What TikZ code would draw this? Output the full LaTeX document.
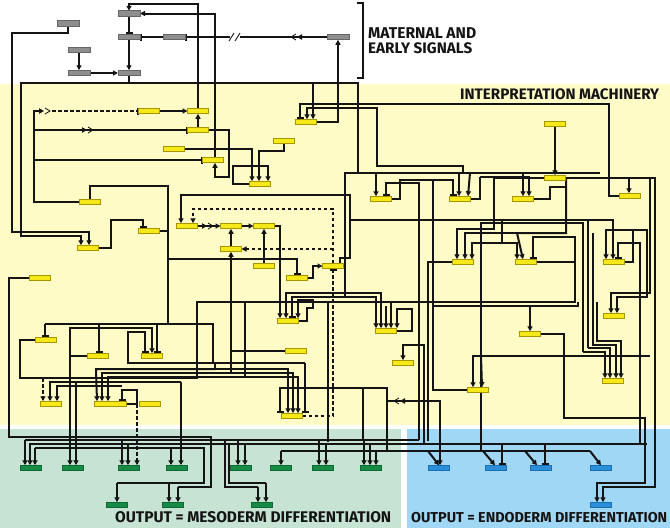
\documentclass[tikz,border=0pt]{standalone}
\usepackage{fontspec}
\newfontfamily\labfont{Fira Sans}
\usetikzlibrary{arrows.meta}
\definecolor{yfill}{HTML}{F6E91A}
\definecolor{ydraw}{HTML}{A89500}
\definecolor{bgy}{HTML}{FFFBC6}
\definecolor{bgg}{HTML}{C6E3D3}
\definecolor{bgb}{HTML}{A0D7F4}
\definecolor{gfill}{HTML}{178A45}
\definecolor{gdraw}{HTML}{0E6A33}
\definecolor{bfill}{HTML}{2A8FD8}
\definecolor{bdraw}{HTML}{1A6FB0}
\definecolor{grfill}{HTML}{8E8E8E}
\definecolor{grdraw}{HTML}{666666}
\definecolor{wire}{HTML}{141414}
\pgfdeclarelayer{back}
\pgfdeclarelayer{mid}
\pgfsetlayers{back,mid,main}
\newcommand\mychevr[2]{%
  \fill[wire] (#1,#2-2.8) -- (#1+5,#2) -- (#1,#2+2.8) -- cycle;
  \draw[wire,line width=0.8pt] (#1+6,#2-3) -- (#1+11,#2) -- (#1+6,#2+3);}
\newcommand\mychevl[2]{%
  \fill[wire] (#1,#2) -- (#1+5,#2-2.8) -- (#1+5,#2+2.8) -- cycle;
  \draw[wire,line width=0.8pt] (#1-1,#2-3) -- (#1-6,#2) -- (#1-1,#2+3);}
\tikzset{
  w/.style={draw=wire,line width=2pt},
  ar/.style={w,-{Triangle[length=5pt,width=5pt]}},
  tb/.style={w,-{Bar[width=7pt]}},
  dsh/.style={w,dash pattern=on 3.5pt off 2.5pt},
  box/.style={minimum width=21pt,minimum height=5.5pt,inner sep=0pt,outer sep=0pt,line width=0.6pt},
  ybox/.style={box,fill=yfill,draw=ydraw},
  gbox/.style={box,fill=grfill,draw=grdraw,minimum width=22pt},
  mbox/.style={box,fill=gfill,draw=gdraw},
  nbox/.style={box,fill=bfill,draw=bdraw},
  lab/.style={font=\labfont\bfseries\fontsize{11.5}{13}\selectfont,text=wire,inner sep=0pt},
}
\begin{document}
\begin{tikzpicture}[x=1pt,y=-1pt]
\useasboundingbox (0,0) rectangle (670,528);
\begin{pgfonlayer}{back}
\fill[white] (0,0) rectangle (670,528);
\fill[bgy] (0,84) rectangle (670,425);
\fill[bgg] (0,429) rectangle (401,528);
\fill[bgb] (407,429) rectangle (670,528);
\end{pgfonlayer}
% ---------------- nodes
\node[gbox] (g1) at (68,23.5) {};
\node[gbox] (g2) at (129,13.5) {};
\node[gbox] (g3) at (129,37) {};
\node[gbox] (g4) at (174,37) {};
\node[gbox] (g5) at (79,50) {};
\node[gbox] (g6) at (79,73) {};
\node[gbox] (g7) at (129,73) {};
\node[gbox] (g8) at (338,37) {};
\node[ybox] (a1) at (149,111) {};
\node[ybox] (a2) at (198,111) {};
\node[ybox] (a3) at (198,130) {};
\node[ybox] (a4) at (174,149) {};
\node[ybox] (a5) at (213,160) {};
\node[ybox] (a6) at (306,122) {};
\node[ybox] (a7) at (284,141) {};
\node[ybox] (a8) at (260,184) {};
\node[ybox] (a9) at (555,124) {};
\node[ybox] (a10) at (555,178) {};
\node[ybox] (a11) at (381,199) {};
\node[ybox] (a12) at (460,199) {};
\node[ybox] (a13) at (523,199) {};
\node[ybox] (a14) at (630,196) {};
\node[ybox] (b1) at (90,202) {};
\node[ybox] (b2) at (149,231) {};
\node[ybox] (b3) at (88,248) {};
\node[ybox] (b4) at (187,226) {};
\node[ybox] (b5) at (231,226) {};
\node[ybox] (b6) at (264,226) {};
\node[ybox] (b7) at (231,249) {};
\node[ybox] (b8) at (264,266) {};
\node[ybox] (b9) at (297,278) {};
\node[ybox] (b10) at (333,266) {};
\node[ybox] (b11) at (40,278) {};
\node[ybox] (c1) at (463,262) {};
\node[ybox] (c2) at (526,262) {};
\node[ybox] (c3) at (614,262) {};
\node[ybox] (c4) at (614,316) {};
\node[ybox] (c5) at (530,334) {};
\node[ybox] (c6) at (288,321) {};
\node[ybox] (c7) at (386,331) {};
\node[ybox] (d1) at (46,340) {};
\node[ybox] (d2) at (98,356) {};
\node[ybox] (d3) at (152,356) {};
\node[ybox] (d4) at (296,351) {};
\node[ybox] (d5) at (403,363) {};
\node[ybox] (d6) at (478,390) {};
\node[ybox] (d7) at (613,381) {};
\node[ybox] (e1) at (51,404) {};
\node[ybox,minimum width=32pt] (e2) at (110,404) {};
\node[ybox] (e3) at (150,404) {};
\node[ybox] (e4) at (292,416) {};
\node[mbox] (m1) at (31,468) {};
\node[mbox] (m2) at (73,468) {};
\node[mbox] (m3) at (129,468) {};
\node[mbox] (m4) at (177,468) {};
\node[mbox] (m5) at (241,468) {};
\node[mbox] (m6) at (281,468) {};
\node[mbox] (m7) at (323,468) {};
\node[mbox] (m8) at (371,468) {};
\node[mbox] (m9) at (117,505) {};
\node[mbox] (m10) at (173,505) {};
\node[mbox] (m11) at (262,505) {};
\node[nbox] (n1) at (439,468) {};
\node[nbox] (n2) at (496,468) {};
\node[nbox] (n3) at (541,468) {};
\node[nbox] (n4) at (601,468) {};
\node[nbox] (n5) at (601,505) {};
% ---------------- labels
\node[lab,anchor=base west] (tm1) at (368,38.5) {\resizebox{108pt}{!}{MATERNAL AND}};
\node[lab,anchor=base west] (tm2) at (368,53) {\resizebox{104pt}{!}{EARLY SIGNALS}};
\node[lab,anchor=base west] (tint) at (460,99.3) {\resizebox{199pt}{!}{INTERPRETATION MACHINERY}};
\node[lab,anchor=base west] (tmes) at (115,522.5) {\resizebox{276pt}{!}{OUTPUT = MESODERM DIFFERENTIATION}};
\node[lab,anchor=base west] (tend) at (411,522.5) {\resizebox{256pt}{!}{OUTPUT = ENDODERM DIFFERENTIATION}};
\begin{pgfonlayer}{mid}
\draw[w] (357,3) -- (363,3) -- (363,78) -- (357,78);
% ---------------- maternal
\draw[ar] (g1.south) -- (68,33) -- (12,33) -- (12,232) -| ([xshift=1pt]b3.north);
\draw[ar] (g7.south) -- (129,83) -- (21,83) -- (21,236) -| ([xshift=-7pt]b3.north);
\draw[w] (129,83) -- (358,83) -- (358,173) -- (600,173);
\draw[tb] (g2.south) -- (g3.north);
\draw[ar] (g3.south) -- (g7.north);
\draw[ar] (g5.south) -- (g6.north);
\draw[ar] (g6.east) -- (g7.west);
\draw[tb] (g4.west) -- (g3.east);
\draw[tb] (g8.west) -- (g4.east);
\fill[white] (230,33) rectangle (240,41);
\draw[wire,line width=0.9pt] (229,41) -- (234,33) (235,41) -- (240,33);
\mychevl{297}{37}
\draw[ar] (a6.east) -| (g8.south);
\draw[ar] (a2.north) -- (198,4) -| (g2.north);
\draw[ar] ([xshift=2pt]a5.north) |- (g2.east);
% ---------------- upper interpretation
\draw[ar] (a1.east) -- (a2.west);
\draw[ar] (a3.north) -- (a2.south);
\draw[w] (b1.west) -- (34,202) -- (34,111) -- (40,111);
\mychevr{39}{111}
\draw[dsh,-{Bar[width=7pt]}] (52,111) -- (a1.west);
\draw[tb] (34,130) -- (a3.west);
\mychevr{82}{130}
\draw[tb] (34,160) -- (a5.west);
\draw[ar] (a3.east) -- (229,130) -- (229,177) -- (215,177) -- ([xshift=2pt]a5.south);
\draw[ar] (a4.east) -| ([xshift=-8pt]a8.north);
\draw[ar] (a7.south) |- (259,151) -- ([xshift=-1pt]a8.north);
\draw[ar] (a8.west) -- (233,184) -- (233,166) -| ([xshift=8pt]a8.north);
\draw[ar] (313,83) -- ([xshift=7pt]a6.north);
\draw[ar] (463,173) -- (463,166) -- (377,166) -- (377,108) -- (307,108) -- ([xshift=1pt]a6.north);
\draw[tb] (a14.west) -- (609,196) -- (609,104) -- (300,104) -- ([xshift=-6pt]a6.north);
\draw[ar] (376,173) -- ([xshift=-5pt]a11.north);
\draw[ar] (459,173) -- ([xshift=-1pt]a12.north);
\draw[ar] (470,173) -- ([xshift=8pt]a12.north);
\draw[ar] (523,173) -- (a13.north);
\draw[ar] (a9.south) -- (a10.north);
\draw[ar] (a10.east) -- (655,178) -- (655,487) -| ([xshift=2pt]n5.north);
\draw[ar] (629,178) -- ([xshift=-1pt]a14.north);
\draw[ar] (a10.west) -- (494,178) -- (494,229) -| ([xshift=-6pt]c1.north);
\draw[w] (a13.east) -- (550,199) -- (550,187) -- (566,187);
\draw[ar] (a10.east) -- (566,178) -- (566,233) -- (517,233) -- ([xshift=-3pt]c2.north);
\draw[ar] (480,177) -- (529,177) -- ([xshift=6pt]a13.north);
\draw[w] (a12.east) -- (480,199) -- (480,177);
\draw[tb] (d6.west) -| (433,180) -| ([xshift=-7pt]a12.north);
\draw[w] (a11.east) -- (400,199) -- (400,180) -- (433,180);
% ---------------- middle block
\draw[w] (b1.north) -- (90,186) -- (168,186) -- (168,324);
\draw[w] (b2.east) -- (168,231);
\draw[tb] (168,259) -| (b9.north);
\draw[tb] (b3.east) -- (111,248) -- (111,220) -| ([xshift=-6pt]b2.north);
\draw[ar] (b4.east) -- (b5.west);
\mychevr{202}{226}
\draw[ar] (b5.east) -- (b6.west);
\draw[ar] (b7.north) -- (b5.south);
\draw[ar] (b8.north) -- (b6.south);
\draw[ar] (b9.east) -- (313,278) -- (313,266) -- (b10.west);
\draw[ar] ([xshift=7pt]b10.north) -- (340,258) -- (350,258) -- (350,195) -| ([xshift=-6pt]b4.north);
\draw[dsh,-{Triangle[length=5pt,width=5pt]}] (b10.north) -- (333,209) -- (193,209) -- ([xshift=6pt]b4.north);
\draw[dsh,-{Triangle[length=5pt,width=5pt]}] (333,249) -- (b7.east);
\draw[dsh,-{Bar[width=7pt]}] (e4.east) -- (333,416) -- (b10.south);
\draw[ar] (350,220) -- (613,220) -- ([xshift=-1pt]c3.north);
\draw[w] (588,220) -- (588,348);
\draw[w] (481,387) -- (481,223) -- (583,223) -- (583,352);
\draw[ar] (502,220) -- (502,243) -- (472,243) -- ([xshift=9pt]c1.north);
\draw[ar] (502,243) -- (517,243) -- ([xshift=-9pt]c2.north);
\draw[ar] (566,233) -- (465,233) -- ([xshift=2pt]c1.north);
\draw[tb] (c2.east) -- (575,262) -- (575,237) -- (533,237) -- ([xshift=7pt]c2.north);
\draw[w] (575,262) -- (575,302) -- (197,302) -- (197,378) -- (20,378) -- (20,340) -- (d1.west);
\draw[dsh,-{Triangle[length=5pt,width=5pt]}] (43,378) -- ([xshift=-8pt]e1.north);
\draw[ar] (c3.east) -- (633,262) -- (633,230) -- (606,230) -- ([xshift=-8pt]c3.north);
\draw[tb] (640,443) -- (640,243) -- (618,243) -- ([xshift=4pt]c3.north);
\draw[ar] (650,178) -- (650,293) -- (611,293) -- ([xshift=-3pt]c4.north);
\draw[ar] (633,230) -- (647,230) -- (647,297) -- (617,297) -- ([xshift=3pt]c4.north);
\draw[w] (433,306) -- (578,306) -- (578,302);
\draw[ar] (530,306) -- (c5.north);
\draw[ar] (c5.east) -- (564,334) -- (564,418) -- (645,418) -- (645,483) -| ([xshift=-4pt]n5.north);
\draw[w] (c1.west) -- (428,262) -- (428,441);
\draw[ar] (583,352) -- (605,352) -- ([xshift=-8pt]d7.north);
\draw[ar] (588,348) -- (610,348) -- ([xshift=-3pt]d7.north);
\draw[ar] (593,233) -- (593,344.5) -- (616,344.5) -- ([xshift=3pt]d7.north);
\draw[ar] (597,302) -- (597,341) -- (621,341) -- ([xshift=8pt]d7.north);
\draw[ar] (650,356) -- (473,356) -- ([xshift=-5pt]d6.north);
\draw[ar] (481,356) -- ([xshift=4pt]d6.north);
% c6 / c7
\draw[ar] (b6.east) -- (280,226) -- ([xshift=-8pt]c6.north);
\draw[w] (358,173) -- (345,173) -- (345,297);
\draw[tb] (345,297) -- (292,297) -- ([xshift=4pt]c6.north);
\draw[ar] (345,293) -- (381,293) -- ([xshift=-5pt]c7.north);
\draw[ar] (345,293) -- (286,293) -- ([xshift=-2pt]c6.north);
\draw[ar] (345,297) -- (376,297) -- ([xshift=-10pt]c7.north);
\draw[ar] (c6.east) -- (307,321) -- (307,308) -- (313,308) -- (313,300) -- (298,300) -- ([xshift=10pt]c6.north);
\draw[ar] (386,306) -- ([xshift=0pt]c7.north);
\draw[ar] (391,302) -- ([xshift=5pt]c7.north);
\draw[ar] (c7.east) -- (412,331) -- (412,309) -- (397,309) -- ([xshift=11pt]c7.north);
\draw[tb] (419,440) -- (419,183) -- (386,183) -- ([xshift=5pt]a11.north);
\draw[ar] (424,444) -- (424,345) -- (403,345) -- (d5.north);
\draw[ar] (d4.west) -| (b7.south);
\draw[w] (328,302) -- (328,442);
% lower-left block
\draw[w] (45,324) -- (213,324) -- (213,363) -- (305,363);
\draw[tb] (45,324) -- ([xshift=-1pt]d1.north);
\draw[tb] (99,324) -- ([xshift=1pt]d2.north);
\draw[tb] (157,324) -- ([xshift=5pt]d3.north);
\draw[ar] (d2.west) -- (70,356) -- (70,328) -- (152,328) -- (d3.north);
\draw[ar] (70,356) -- ([xshift=-3pt]m2.north);
\draw[tb] (213,363) -- (128,363) -- (128,332) -- (145,332) -- ([xshift=-7pt]d3.north);
\draw[tb] (305,363) -- ([xshift=13pt]e4.north);
\draw[w] (b11.west) -- (9,278) -- (9,437) -- (211,437) -- (211,487) -- (178,487);
\draw[ar] (178,487) -- ([xshift=5pt]m10.north);
\draw[ar] (215,369) -- (96,369) -- ([xshift=-13pt]e2.north);
\draw[ar] (215,369) -- (288,369) -- ([xshift=-4pt]e4.north);
\draw[w] (213,363) -- (215,363) -- (215,369);
\draw[ar] (231,373) -- (102,373) -- ([xshift=-8pt]e2.north);
\draw[ar] (231,373) -- (293,373) -- ([xshift=1pt]e4.north);
\draw[ar] (245,302) -- (245,377) -- (108,377) -- ([xshift=-2pt]e2.north);
\draw[ar] (245,377) -- (298,377) -- ([xshift=6pt]e4.north);
\draw[w] (231,352) -- (231,373);
\draw[tb] (387,451) -- (387,388) -- (280,388) -- ([xshift=-12pt]e4.north);
\draw[w] (363,388) -- (363,440);
\draw[ar] (181,382) -- (50,382) -- ([xshift=-1pt]e1.north);
\draw[ar] (181,382) -- ([xshift=4pt]m4.north);
\draw[ar] (76,382) -- ([xshift=3pt]m2.north);
\draw[ar] (122,386) -- (57,386) -- ([xshift=6pt]e1.north);
\draw[tb] (e2.east) -- (137,404) -- (137,390) -- (122,390) -- ([xshift=12pt]e2.north);
\draw[dsh,-{Triangle[length=5pt,width=5pt]}] (137,404) -- ([xshift=8pt]m3.north);
% ---------------- output buses
\draw[w] (25,440) -- (419,440);
\draw[ar] (25,440) -- ([xshift=-6pt]m1.north);
\draw[ar] (122,440) -- ([xshift=-7pt]m3.north);
\draw[ar] (238,440) -- ([xshift=-3pt]m5.north);
\draw[ar] (319,440) -- ([xshift=-4pt]m7.north);
\draw[ar] (364,440) -- ([xshift=-7pt]m8.north);
\draw[w] (29,444) -- (647,444);
\draw[ar] (30,444) -- ([xshift=-1pt]m1.north);
\draw[ar] (128,444) -- ([xshift=-1pt]m3.north);
\draw[ar] (245,444) -- ([xshift=4pt]m5.north);
\draw[ar] (326,444) -- ([xshift=3pt]m7.north);
\draw[ar] (370,444) -- ([xshift=-1pt]m8.north);
\draw[tb] (502,444) -- ([xshift=6pt]n2.north);
\draw[tb] (545,444) -- ([xshift=4pt]n3.north);
\draw[w] (35,448) -- (204,448) -- (204,483) -- (117,483);
\draw[ar] (35,448) -- ([xshift=4pt]m1.north);
\draw[ar] (171,448) -- ([xshift=-6pt]m4.north);
\draw[ar] (117,483) -- (m9.north);
\draw[ar] (169,483) -- ([xshift=-4pt]m10.north);
\draw[w] (281,451) -- (590,451);
\draw[ar] (281,451) -- (m6.north);
\draw[ar] (376,451) -- ([xshift=5pt]m8.north);
\draw[w] (481,387) -- (481,451);
\draw[ar] (428,451) -- (n1.north);
\draw[ar] (483,451) -- ([xshift=-1pt]n2.north);
\draw[ar] (525,451) -- ([xshift=-4pt]n3.north);
\draw[ar] (590,451) -- ([xshift=0pt]n4.north);
\draw[ar] (387,401) -- (440,401) -- ([xshift=1pt]n1.north);
\mychevl{400}{401}
\draw[w] (225,440) -- (225,487) -- (258,487);
\draw[ar] (258,487) -- ([xshift=-4pt]m11.north);
\draw[w] (229,444) -- (229,483) -- (266,483);
\draw[ar] (266,483) -- ([xshift=4pt]m11.north);
\end{pgfonlayer}
\end{tikzpicture}
\end{document}
